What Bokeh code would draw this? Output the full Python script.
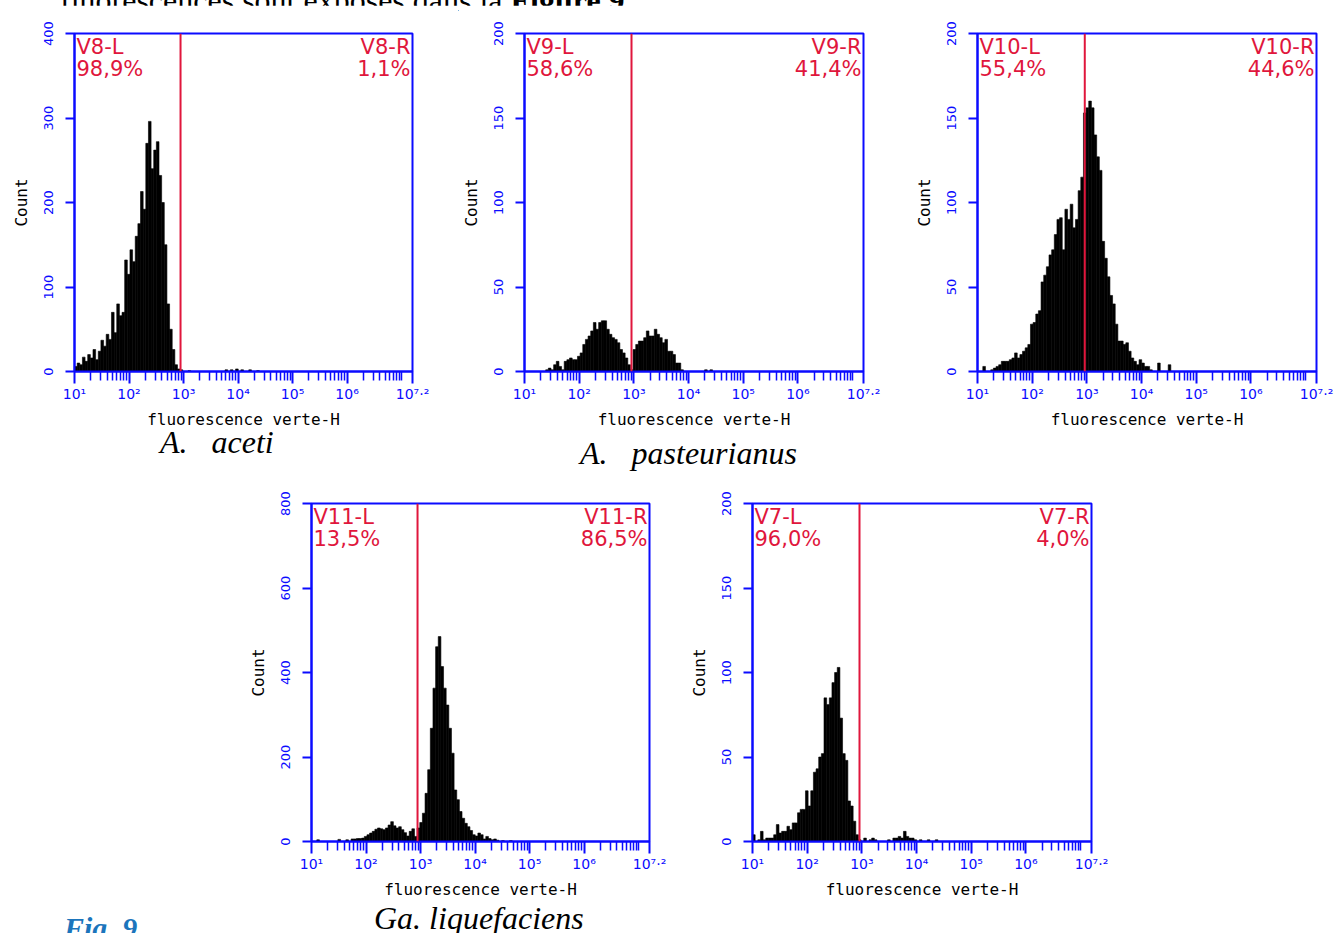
from bokeh.plotting import figure
from bokeh.models import Range1d, FixedTicker, Span, Label, Div, ColumnDataSource
from bokeh.layouts import row, column
from bokeh.embed import file_html
from bokeh.resources import INLINE

# ---------------- data ----------------
BIN_START = 1.0          # log10 of first channel edge
BIN_WIDTH = 6.2 / 128    # 128 log channels from 10^1 to 10^7.2
X_TICK_EXP = [1, 2, 3, 4, 5, 6, 7.2]
X_TICK_LABELS = ["10¹", "10²", "10³", "10⁴", "10⁵", "10⁶", "10⁷·²"]

aceti_counts = [6, 10, 8, 17, 12, 20, 16, 26, 14, 24, 37, 30, 44, 38, 70, 46, 80, 66, 70, 132,
                115, 144, 130, 160, 175, 213, 192, 270, 296, 240, 262, 272, 232, 200, 150, 80, 50, 26, 8, 3,
                2, 0, 0, 1, 0, 0, 0, 0, 0, 0, 0, 0, 0, 0, 0, 0, 0, 2, 0, 2,
                0, 3, 0, 2, 0, 0, 2, 0, 0, 1]
pasteurianus_counts = [0, 0, 0, 0, 0, 0, 0, 0, 1, 2, 1, 4, 6, 3, 1, 6, 7, 8, 7, 7,
                       9, 11, 16, 19, 21, 24, 29, 25, 29, 30, 30, 25, 22, 20, 19, 17, 13, 11, 8, 4,
                       1, 13, 16, 18, 18, 20, 24, 21, 21, 25, 22, 20, 17, 19, 12, 12, 10, 5, 5, 1,
                       0, 0, 0, 0, 0, 0, 0, 0, 1, 0, 1]
v10_counts = [0, 0, 3, 0, 0, 1, 2, 3, 4, 6, 6, 6, 7, 8, 11, 8, 10, 12, 14, 16,
              28, 29, 34, 36, 53, 57, 62, 69, 72, 81, 90, 91, 72, 96, 90, 99, 85, 90, 107, 115,
              153, 156, 160, 156, 140, 127, 119, 77, 67, 56, 45, 40, 28, 18, 18, 16, 17, 12, 8, 6,
              4, 7, 5, 3, 3, 1, 0, 0, 5, 0, 0, 0, 4]
liquefaciens_counts = [0, 0, 4, 0, 0, 0, 0, 0, 0, 0, 5, 0, 0, 4, 0, 6, 6, 7, 7, 8,
                       12, 16, 20, 24, 29, 32, 30, 28, 32, 39, 47, 37, 32, 35, 28, 21, 13, 24, 30, 12,
                       32, 45, 67, 114, 170, 268, 363, 461, 485, 414, 363, 323, 268, 209, 122, 99, 71, 55, 43, 35,
                       26, 16, 13, 20, 16, 6, 12, 7, 4, 6, 3, 0, 2, 0, 0, 2]
v7_counts = [4, 0, 1, 6, 1, 2, 2, 2, 4, 10, 5, 6, 6, 9, 7, 11, 11, 17, 19, 19,
             30, 21, 30, 41, 43, 50, 52, 85, 81, 85, 94, 100, 103, 73, 52, 48, 24, 21, 12, 4,
             1, 0, 2, 0, 1, 2, 1, 0, 0, 0, 0, 1, 0, 2, 2, 3, 2, 6, 3, 2,
             2, 1, 0, 1, 0, 0, 1, 0, 0, 1]

PANEL_COUNTS = [aceti_counts, pasteurianus_counts, v10_counts, liquefaciens_counts, v7_counts]
PANEL_IDS = ["V8", "V9", "V10", "V11", "V7"]
LEFT_PCT = ["98,9%", "58,6%", "55,4%", "13,5%", "96,0%"]
RIGHT_PCT = ["1,1%", "41,4%", "44,6%", "86,5%", "4,0%"]
GATE_EXP = [2.945, 2.957, 2.962, 2.945, 2.957]
Y_MAX = [400, 200, 200, 800, 200]
Y_TICKS = [[0, 100, 200, 300, 400], [0, 50, 100, 150, 200], [0, 50, 100, 150, 200],
           [0, 200, 400, 600, 800], [0, 50, 100, 150, 200]]
CAPTIONS = ["A.   aceti", "A.   pasteurianus", "Ga. liquefaciens"]
X_LABEL = "fluorescence verte-H"
Y_LABEL = "Count"
TOP_TEXT = "fluorescences sont exposés dans la <b>Figure 9</b>."
FIG_TEXT = "Fig. 9"

# ---------------- style ----------------
BLUE = "#0b0bff"
RED = "#e0163c"
MAJORS = [10 ** e for e in X_TICK_EXP]
MINORS = [k * 10 ** d for d in range(1, 7) for k in range(2, 10)] + [10 ** 7]


def make_panel(k, fw, fh, bl, br, bt, bb):
    counts = PANEL_COUNTS[k]
    p = figure(x_axis_type="log", x_range=Range1d(10 ** 1, 10 ** 7.2), y_range=Range1d(0, Y_MAX[k]),
               frame_width=fw, frame_height=fh, min_border_left=bl, min_border_right=br,
               min_border_top=bt, min_border_bottom=bb, toolbar_location=None,
               output_backend="svg", background_fill_color="white", border_fill_color="white")
    n = len(counts)
    src = ColumnDataSource(dict(
        left=[10 ** (BIN_START + i * BIN_WIDTH) for i in range(n)],
        right=[10 ** (BIN_START + (i + 1) * BIN_WIDTH) for i in range(n)],
        top=counts, bottom=[0] * n))
    p.quad(left="left", right="right", top="top", bottom="bottom", source=src,
           fill_color="black", line_color="black", line_width=0.6)
    p.xgrid.visible = False
    p.ygrid.visible = False
    p.outline_line_color = BLUE
    p.outline_line_width = 2
    p.outline_line_alpha = 1

    xa = p.xaxis[0]
    xa.ticker = FixedTicker(ticks=MAJORS, minor_ticks=MINORS)
    xa.major_label_overrides = {t: lab for t, lab in zip(MAJORS, X_TICK_LABELS)}
    xa.axis_line_color = BLUE
    xa.axis_line_width = 2
    xa.major_tick_line_color = BLUE
    xa.major_tick_line_width = 2
    xa.minor_tick_line_color = BLUE
    xa.minor_tick_line_width = 1.5
    xa.major_tick_in = 0
    xa.major_tick_out = 12
    xa.minor_tick_in = 0
    xa.minor_tick_out = 9
    xa.major_label_text_color = BLUE
    xa.major_label_text_font = "DejaVu Sans"
    xa.major_label_text_font_size = "14px"
    xa.major_label_standoff = 2
    xa.axis_label = X_LABEL
    xa.axis_label_text_font = "DejaVu Sans Mono"
    xa.axis_label_text_font_size = "16px"
    xa.axis_label_text_font_style = "normal"
    xa.axis_label_text_color = "black"
    xa.axis_label_standoff = 5

    ya = p.yaxis[0]
    ya.ticker = FixedTicker(ticks=Y_TICKS[k])
    ya.minor_tick_line_color = None
    ya.axis_line_color = BLUE
    ya.axis_line_width = 2
    ya.major_tick_line_color = BLUE
    ya.major_tick_line_width = 2
    ya.major_tick_in = 0
    ya.major_tick_out = 9
    ya.major_label_orientation = "vertical"
    ya.major_label_text_color = BLUE
    ya.major_label_text_font = "DejaVu Sans"
    ya.major_label_text_font_size = "13px"
    ya.major_label_standoff = 13
    ya.axis_label = Y_LABEL
    ya.axis_label_text_font = "DejaVu Sans Mono"
    ya.axis_label_text_font_size = "16px"
    ya.axis_label_text_font_style = "normal"
    ya.axis_label_text_color = "black"
    ya.axis_label_standoff = 10

    p.add_layout(Span(location=10 ** GATE_EXP[k], dimension="height", line_color=RED, line_width=2))
    p.add_layout(Label(x=10 ** 1, y=Y_MAX[k], x_offset=2, y_offset=-1,
                       text=f"{PANEL_IDS[k]}-L\n{LEFT_PCT[k]}", text_baseline="top", text_align="left",
                       text_color=RED, text_font="DejaVu Sans", text_font_size="21px",
                       text_line_height=0.93))
    p.add_layout(Label(x=10 ** 7.2, y=Y_MAX[k], x_offset=-2, y_offset=-1,
                       text=f"{PANEL_IDS[k]}-R\n{RIGHT_PCT[k]}", text_baseline="top", text_align="right",
                       text_color=RED, text_font="DejaVu Sans", text_font_size="21px",
                       text_line_height=0.93))
    return p


def strip(width, height, items, clip=True):
    spans = "".join(
        f'<span style="position:absolute; left:{x}px; top:{y}px; white-space:pre; {css}">{t}</span>'
        for (t, x, y, css) in items)
    ov = "hidden" if clip else "visible"
    return Div(text=f'<div style="position:relative; width:{width}px; height:{height}px; overflow:{ov};">{spans}</div>',
               width=width, height=height, margin=0)


CAP_CSS = "font-family:'Liberation Serif'; font-style:italic; font-size:32px; line-height:32px; color:black;"
FIG_CSS = "font-family:'Liberation Serif'; font-style:italic; font-weight:bold; font-size:30px; line-height:30px; color:#1b75bc;"

top_div = Div(text=('<div style="position:relative; height:5px;">'
                    '<span style="position:absolute; left:60px; top:-23px; white-space:pre;'
                    ' font-family:\'Liberation Serif\'; font-size:32px; line-height:32px; color:black;">'
                    + TOP_TEXT + '</span></div>'), width=1334, height=5, margin=0)

# row 1 ; frames share a common top edge inside a row
f1 = make_panel(0, 338, 338, 74, 46, 28, 59)
f2 = make_panel(1, 339, 338, 66, 48, 28, 59)
f3 = make_panel(2, 339, 338, 66, 18, 28, 59)
# captions strip
cap1 = strip(1334, 41, [(CAPTIONS[0], 160, -5, CAP_CSS), (CAPTIONS[1], 580, 6, CAP_CSS)], clip=False)
# row 2
f4 = make_panel(3, 338, 338, 311, 37, 31, 60)
f5 = make_panel(4, 339, 338, 66, 20, 31, 60)
# bottom strip
cap2 = strip(1334, 33, [(FIG_TEXT, 64, 12, FIG_CSS), (CAPTIONS[2], 374, 1, CAP_CSS)])

layout = column(top_div, row(f1, f2, f3), cap1, row(f4, f5), cap2)
open("out.html", "w").write(file_html(layout, INLINE))
